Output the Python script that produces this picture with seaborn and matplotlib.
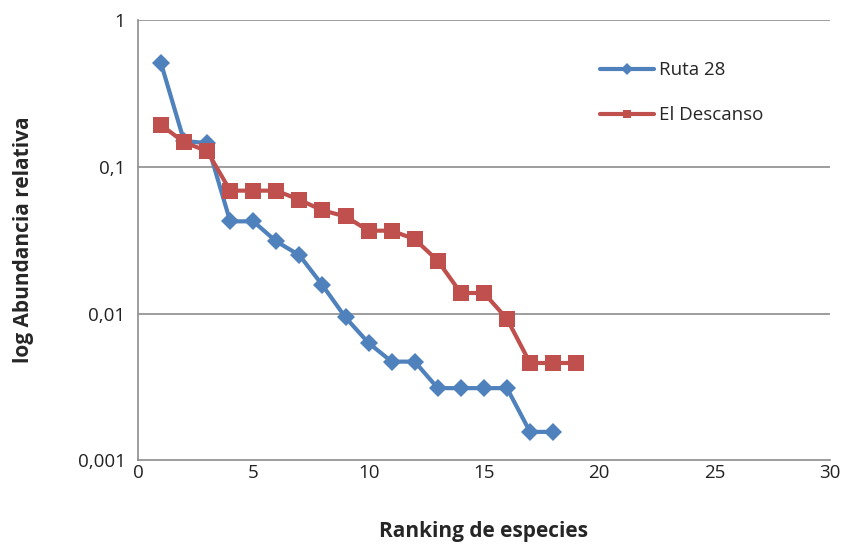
import numpy as np
import pandas as pd
import matplotlib
matplotlib.use("Agg")
import matplotlib.pyplot as plt
import seaborn as sns

# Data
rank_ruta = list(range(1, 19))
ruta_28 = [0.51, 0.15, 0.145, 0.0425, 0.0425, 0.031, 0.025, 0.0156, 0.0094,
           0.0063, 0.0047, 0.0047, 0.0031, 0.0031, 0.0031, 0.0031, 0.00156, 0.00156]

rank_desc = list(range(1, 20))
el_descanso = [0.193, 0.147, 0.128, 0.0688, 0.0688, 0.0688, 0.0596, 0.0505, 0.0459,
               0.0367, 0.0367, 0.0321, 0.0229, 0.0138, 0.0138, 0.0092, 0.0046, 0.0046, 0.0046]

y_ticks = [0.001, 0.01, 0.1, 1]
y_tick_labels = ["0,001", "0,01", "0,1", "1"]

df = pd.concat([
    pd.DataFrame({"rank": rank_ruta, "abund": ruta_28, "sitio": "Ruta 28"}),
    pd.DataFrame({"rank": rank_desc, "abund": el_descanso, "sitio": "El Descanso"}),
])

sns.set_style("white")
plt.rcParams["font.family"] = ["Open Sans", "DejaVu Sans"]

fig = plt.figure(figsize=(8.46, 5.44), dpi=100)
ax = fig.add_axes([0.163, 0.154, 0.818, 0.809])

sns.lineplot(
    data=df, x="rank", y="abund", hue="sitio", style="sitio",
    markers={"Ruta 28": "D", "El Descanso": "s"}, dashes=False,
    palette={"Ruta 28": "#4F81BD", "El Descanso": "#C0504D"},
    linewidth=3, markersize=9, markeredgewidth=0, ax=ax,
)
# square markers slightly larger
for line in ax.get_lines():
    if line.get_marker() == "s":
        line.set_markersize(11)

ax.set_yscale("log")
ax.set_ylim(0.001, 1)
ax.set_xlim(0, 30)
ax.set_xticks(range(0, 31, 5))
ax.set_yticks(y_ticks)
ax.set_yticklabels(y_tick_labels)
ax.minorticks_off()
ax.tick_params(axis="both", labelsize=13.5, colors="#222222", length=0)
ax.tick_params(axis="x", pad=3)
ax.tick_params(axis="y", pad=9)

for yv in [0.01, 0.1, 1]:
    ax.axhline(yv, color="#8c8c8c", linewidth=1.2, zorder=0)

for s in ["top", "right"]:
    ax.spines[s].set_visible(False)
for s in ["left", "bottom"]:
    ax.spines[s].set_color("#8c8c8c")
    ax.spines[s].set_linewidth(1.2)

ax.set_xlabel("Ranking de especies", fontsize=15, fontweight="bold", labelpad=28)
ax.set_ylabel("log Abundancia relativa", fontsize=15, fontweight="bold", labelpad=31)

leg = ax.legend(loc="upper left", bbox_to_anchor=(0.643, 0.945), frameon=False,
                fontsize=13.5, handlelength=2.9, handletextpad=0.25,
                labelspacing=1.45, title=None)
for h in leg.legend_handles:
    h.set_markersize(6)

fig.savefig("out.png", dpi=100)
